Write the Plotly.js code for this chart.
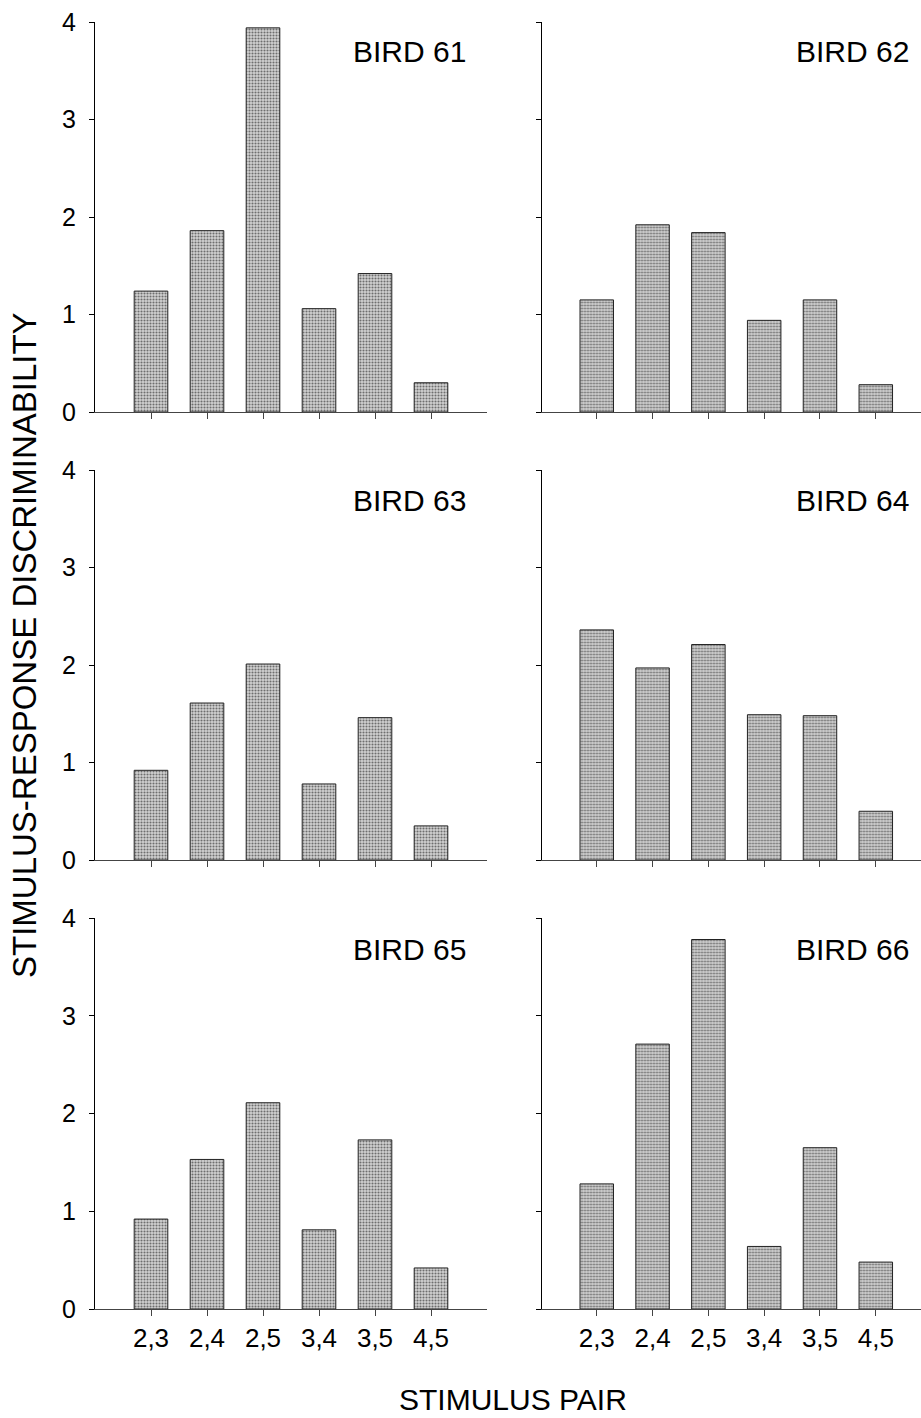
<!DOCTYPE html>
<html>
<head>
<meta charset="utf-8">
<script src="https://cdn.plot.ly/plotly-3.0.1.min.js"></script>
<style>html,body{margin:0;padding:0;background:#fff}#chart{width:921px;height:1418px}</style>
</head>
<body>
<div id="chart"></div>
<script>
var pairs = ["2,3", "2,4", "2,5", "3,4", "3,5", "4,5"];
var birdNames = ["BIRD 61", "BIRD 62", "BIRD 63", "BIRD 64", "BIRD 65", "BIRD 66"];
var bird61 = [1.24, 1.86, 3.94, 1.06, 1.42, 0.30];
var bird62 = [1.15, 1.92, 1.84, 0.94, 1.15, 0.28];
var bird63 = [0.92, 1.61, 2.01, 0.78, 1.46, 0.35];
var bird64 = [2.36, 1.97, 2.21, 1.49, 1.48, 0.50];
var bird65 = [0.92, 1.53, 2.11, 0.81, 1.73, 0.42];
var bird66 = [1.28, 2.71, 3.78, 0.64, 1.65, 0.48];
var yTicks = [0, 1, 2, 3, 4];

var W = 921, H = 1418;
function px(x) { return x / W; }
function py(y) { return 1 - y / H; }

var series = [bird61, bird62, bird63, bird64, bird65, bird66];
var rows = [[22, 412], [470, 860], [918, 1309]];
var cols = [{d: [95, 487], r: [-1, 6], lab: 468}, {d: [541.5, 921], r: [-0.99, 5.81], lab: 911}];
var labelY = [50, 498, 948];

var font = "Liberation Sans, Arial, Helvetica, sans-serif";
var data = [];
var layout = {
  width: W, height: H,
  margin: {l: 0, r: 0, t: 0, b: 0},
  paper_bgcolor: "#fff", plot_bgcolor: "rgba(0,0,0,0)",
  showlegend: false,
  bargap: 0.4,
  font: {family: font, color: "#000"},
  annotations: []
};

for (var i = 0; i < 6; i++) {
  var row = Math.floor(i / 2), col = i % 2;
  var n = i + 1;
  var xa = "x" + (n === 1 ? "" : n), ya = "y" + (n === 1 ? "" : n);
  data.push({
    type: "bar", x: pairs, y: series[i], xaxis: xa, yaxis: ya,
    marker: {
      color: "#c4c4c4",
      line: {color: "#222", width: 1},
      pattern: {shape: ".", fgcolor: "#6e6e6e", bgcolor: "#d2d2d2", size: 3, solidity: 0.4}
    },
    hoverinfo: "skip"
  });
  layout["xaxis" + (n === 1 ? "" : n)] = {
    domain: [px(cols[col].d[0]), px(cols[col].d[1])],
    anchor: ya,
    type: "category", categoryorder: "array", categoryarray: pairs,
    range: cols[col].r,
    showline: true, linecolor: "#444", linewidth: 1,
    ticks: "outside", ticklen: 6, tickcolor: "#444", tickwidth: 1,
    showticklabels: row === 2,
    tickfont: {size: 26, family: font, color: "#000"},
    showgrid: false, zeroline: false, fixedrange: true
  };
  layout["yaxis" + (n === 1 ? "" : n)] = {
    domain: [py(rows[row][1]), py(rows[row][0])],
    anchor: xa,
    range: [0, 4],
    tickmode: "array", tickvals: yTicks, ticktext: yTicks.map(String),
    showline: true, linecolor: "#000", linewidth: 1,
    ticks: "outside", ticklen: 5, tickcolor: "#000", tickwidth: 1,
    showticklabels: col === 0,
    ticklabelstandoff: 8,
    tickfont: {size: 25, family: font, color: "#000"},
    showgrid: false, zeroline: false, fixedrange: true
  };
  layout.annotations.push({
    text: birdNames[i], xref: "paper", yref: "paper",
    x: px(cols[col].lab), y: py(labelY[row] + 2), xanchor: "right", yanchor: "middle",
    showarrow: false, font: {size: 30, family: font, color: "#000"}
  });
}

layout.annotations.push({
  text: "STIMULUS PAIR", xref: "paper", yref: "paper",
  x: px(513), y: py(1399), xanchor: "center", yanchor: "middle",
  showarrow: false, font: {size: 30, family: font, color: "#000"}
});
layout.annotations.push({
  text: "STIMULUS-RESPONSE DISCRIMINABILITY", xref: "paper", yref: "paper",
  x: px(24), y: py(645), xanchor: "center", yanchor: "middle", textangle: -90,
  showarrow: false, font: {size: 33, family: font, color: "#000"}
});

Plotly.newPlot("chart", data, layout, {staticPlot: true, displayModeBar: false});
</script>
</body>
</html>
